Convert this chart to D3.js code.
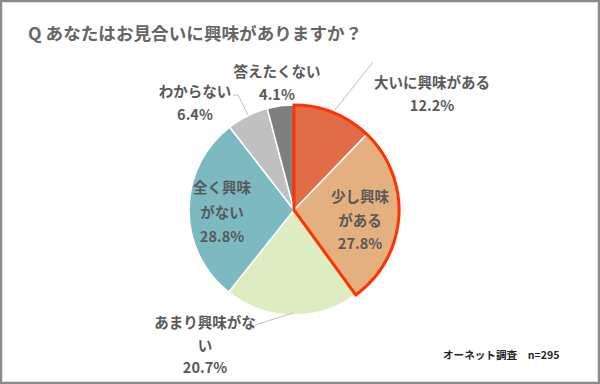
<!DOCTYPE html>
<html><head><meta charset="utf-8">
<script src="https://cdn.jsdelivr.net/npm/d3@7"></script>
<style>
html,body{margin:0;padding:0;background:#fff;}
svg{display:block;font-family:"Noto Sans CJK JP","Noto Sans",sans-serif;}
</style></head>
<body>
<svg id="chart" width="600" height="384"></svg>
<script>
const categories = ["大いに興味がある","少し興味がある","あまり興味がない","全く興味がない","わからない","答えたくない"];
const values = [12.2, 27.8, 20.7, 28.8, 6.4, 4.1];
const colors = ["#E06C48","#E4B07F","#DDEDC1","#7DB9C1","#C0C0C0","#7F7F7F"];
const labelLines = [
  ["大いに興味がある","12.2%"],
  ["少し興味","がある","27.8%"],
  ["あまり興味がな","い","20.7%"],
  ["全く興味","がない","28.8%"],
  ["わからない","6.4%"],
  ["答えたくない","4.1%"]
];
const title = "Q あなたはお見合いに興味がありますか？";
const source = "オーネット調査　n=295";

const svg = d3.select("#chart");
const W = 600, H = 384;
svg.append("rect").attr("x",1).attr("y",1).attr("width",W-2).attr("height",H-2)
  .attr("fill","#fff").attr("stroke","#8a8a8a").attr("stroke-width",2.5);

svg.append("text").attr("x",28).attr("y",40).text(title)
  .attr("font-size",17.6).attr("font-weight","bold").attr("fill","#666");

const cx = 294, cy = 210, R = 105;
const g = svg.append("g").attr("transform",`translate(${cx},${cy})`);
const pie = d3.pie().sort(null).value(d=>d);
const arcs = pie(values);
const arc = d3.arc().innerRadius(0).outerRadius(R);
g.selectAll("path.slice").data(arcs).join("path").attr("class","slice")
  .attr("d",arc).attr("fill",(d,i)=>colors[i]).attr("stroke","#fff").attr("stroke-width",1.5);

// highlight outline around first two slices
const hl = d3.arc().innerRadius(0).outerRadius(R)({startAngle:arcs[0].startAngle,endAngle:arcs[1].endAngle});
g.append("path").attr("d",hl).attr("fill","none").attr("stroke","#FF3300")
  .attr("stroke-width",3).attr("stroke-linejoin","miter");

// leader lines
const leaders = [
  [[373,62],[335,110]],
  [[233,95],[238,95],[248,115]],
  [[255,325],[293,313]]
];
leaders.forEach(p=>{
  svg.append("path").attr("d",d3.line()(p)).attr("fill","none")
    .attr("stroke","#bfbfbf").attr("stroke-width",1);
});

const labelPos = [
  [432,88,23],
  [360,202,23.5],
  [205,328,22.5],
  [222,193,24.5],
  [195,97,23],
  [277,77,23]
];
labelLines.forEach((lines,i)=>{
  const [x,y,lh] = labelPos[i];
  const t = svg.append("text").attr("text-anchor","middle").attr("font-size",14.5)
    .attr("font-weight","bold").attr("fill","#595959");
  lines.forEach((s,j)=>{
    t.append("tspan").attr("x",x).attr("y",y+j*lh).text(s);
  });
});

svg.append("text").attr("x",443).attr("y",359).text(source)
  .attr("font-size",10.6).attr("font-weight","bold").attr("fill","#262626");
</script>
</body></html>
